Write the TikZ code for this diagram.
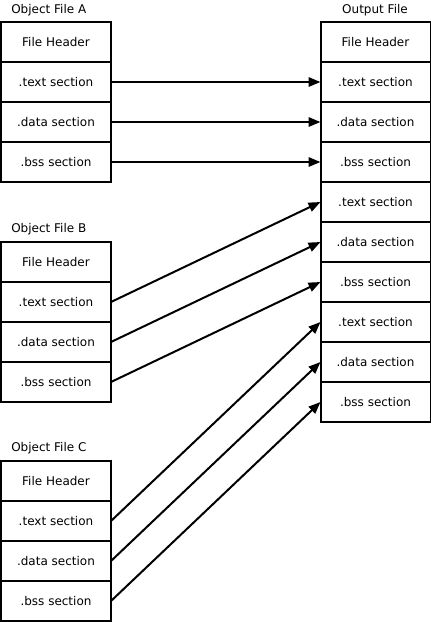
\documentclass[tikz,border=0pt]{standalone}
\usepackage{fontspec}
\setmainfont{DejaVu Sans}
\usetikzlibrary{positioning,arrows.meta}

\begin{document}
\begin{tikzpicture}[x=0.75pt,y=-0.75pt,
    sect/.style={draw,line width=1.5pt,minimum width=82.5pt,minimum height=30pt,
        inner sep=0pt,outer sep=0pt,font=\fontsize{9}{11}\selectfont},
    title/.style={font=\fontsize{9}{11}\selectfont,inner sep=0pt},
    link/.style={line width=1.5pt,-{Triangle[length=9pt,width=7pt]}}]
            \useasboundingbox (0,0) rectangle (431,622);

            % object file A
            \node[title,anchor=west] (titleA) at (11,10) {Object File A};
            \node[sect] (aHead) at (56,42) {File Header};
            \node[sect,below=0pt of aHead] (aText) {.text section};
            \node[sect,below=0pt of aText] (aData) {.data section};
            \node[sect,below=0pt of aData] (aBss) {.bss section};

            % object file B
            \node[title,anchor=west] (titleB) at (11,229) {Object File B};
            \node[sect] (bHead) at (56,262) {File Header};
            \node[sect,below=0pt of bHead] (bText) {.text section};
            \node[sect,below=0pt of bText] (bData) {.data section};
            \node[sect,below=0pt of bData] (bBss) {.bss section};

            % object file C
            \node[title,anchor=west] (titleC) at (11,448) {Object File C};
            \node[sect] (cHead) at (56,481) {File Header};
            \node[sect,below=0pt of cHead] (cText) {.text section};
            \node[sect,below=0pt of cText] (cData) {.data section};
            \node[sect,below=0pt of cData] (cBss) {.bss section};

            % output file
            \node[title] (titleO) at (375,10) {Output File};
            \node[sect] (oHead) at (375.5,42) {File Header};
            \node[sect,below=0pt of oHead] (oTextA) {.text section};
            \node[sect,below=0pt of oTextA] (oDataA) {.data section};
            \node[sect,below=0pt of oDataA] (oBssA) {.bss section};
            \node[sect,below=0pt of oBssA] (oTextB) {.text section};
            \node[sect,below=0pt of oTextB] (oDataB) {.data section};
            \node[sect,below=0pt of oDataB] (oBssB) {.bss section};
            \node[sect,below=0pt of oBssB] (oTextC) {.text section};
            \node[sect,below=0pt of oTextC] (oDataC) {.data section};
            \node[sect,below=0pt of oDataC] (oBssC) {.bss section};

            \draw[link] (aText.east) to (oTextA.west);
            \draw[link] (aData.east) to (oDataA.west);
            \draw[link] (aBss.east) to (oBssA.west);

            \draw[link] (bText.east) to (oTextB.west);
            \draw[link] (bData.east) to (oDataB.west);
            \draw[link] (bBss.east) to (oBssB.west);

            \draw[link] (cText.east) to (oTextC.west);
            \draw[link] (cData.east) to (oDataC.west);
            \draw[link] (cBss.east) to (oBssC.west);

        \end{tikzpicture}
\end{document}
